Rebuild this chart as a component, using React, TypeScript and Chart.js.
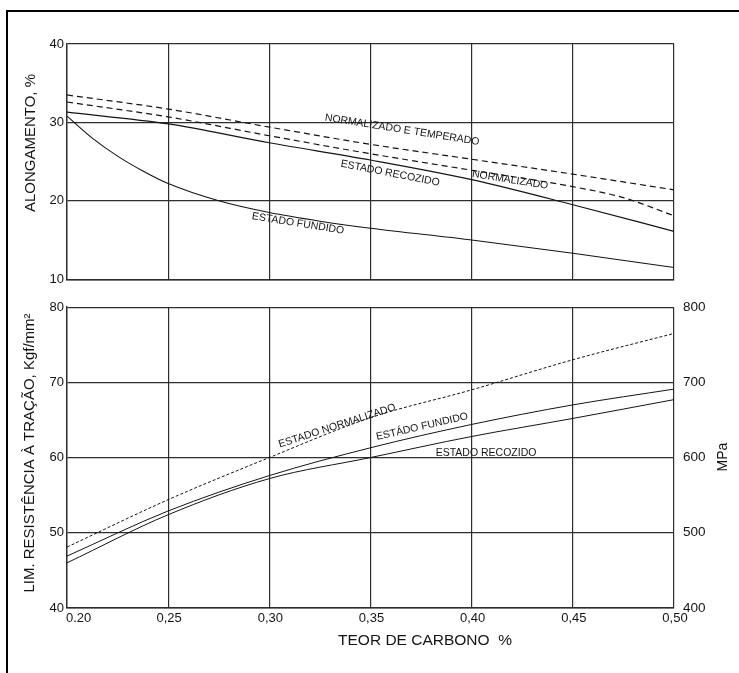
import React, { useEffect, useRef } from "react";
import { Chart, registerables } from "chart.js";

Chart.register(...registerables);

// ---------- data ----------
const xTickValues = [0.2, 0.25, 0.3, 0.35, 0.4, 0.45, 0.5];
const xTickLabels = ["0.20", "0,25", "0,30", "0,35", "0,40", "0,45", "0,50"];

const carbonX = [0.2, 0.25, 0.3, 0.35, 0.4, 0.45, 0.5];

// Top panel: ALONGAMENTO, %
const elongNormTemperado = [33.5, 31.7, 29.4, 27.2, 25.3, 23.4, 21.4];
const elongNormX = [0.2, 0.25, 0.3, 0.35, 0.4, 0.45, 0.475, 0.5];
const elongNormalizado = [32.6, 30.7, 28.3, 26.0, 23.9, 21.8, 20.4, 18.1];
const elongRecozido = [31.3, 29.8, 27.4, 25.2, 22.7, 19.5, 16.1];
const elongFundidoX = [0.2, 0.2125, 0.225, 0.2375, 0.25, 0.275, 0.3, 0.325, 0.35, 0.4, 0.45, 0.5];
const elongFundido = [30.8, 28.0, 25.7, 23.8, 22.2, 20.0, 18.5, 17.4, 16.5, 15.0, 13.3, 11.5];

// Bottom panel: LIM. RESISTÊNCIA À TRAÇÃO, Kgf/mm²
const strengthNormalizado = [48.1, 54.4, 60.0, 65.3, 69.0, 73.0, 76.5];
const strengthFundido = [46.9, 52.9, 57.6, 61.3, 64.4, 67.0, 69.1];
const strengthRecozido = [46.0, 52.4, 57.2, 60.0, 62.8, 65.2, 67.7];

const elongRange = [10, 40];
const strengthRange = [40, 80];
const mpaRange = [400, 800];

// curve labels (anchored in data coordinates)
const topCurveLabels = [
  { text: "NORMALIZADO E TEMPERADO", x: 0.3656, y: 29.05, angle: 9 },
  { text: "ESTADO RECOZIDO", x: 0.3597, y: 23.5, angle: 11 },
  { text: "NORMALIZADO", x: 0.419, y: 22.65, angle: 9 },
  { text: "ESTADO FUNDIDO", x: 0.3142, y: 17.1, angle: 9 },
];
const bottomCurveLabels = [
  { text: "ESTADO NORMALIZADO", x: 0.3335, y: 64.2, angle: -18 },
  { text: "ESTÁDO FUNDIDO", x: 0.3755, y: 64.1, angle: -13 },
  { text: "ESTADO RECOZIDO", x: 0.4071, y: 60.6, angle: 0 },
];

const FONT = "'Liberation Sans', Arial, Helvetica, sans-serif";
const INK = "#141414";
const GRID = "#2e2e2e";

const pts = (xs: number[], ys: number[]) => xs.map((x, i) => ({ x, y: ys[i] }));

type Lbl = { text: string; x: number; y: number; angle: number };
type Title = { text: string; px: number; py: number; rot: number; size: number };

function annotPlugin(id: string, labels: Lbl[], titles: Title[], drawXTicks: boolean) {
  return {
    id,
    afterDraw(chart: any) {
      const ctx = chart.ctx as CanvasRenderingContext2D;
      const xs = chart.scales.x;
      const ys = chart.scales.y;
      ctx.save();
      ctx.fillStyle = INK;
      ctx.font = `10.5px ${FONT}`;
      ctx.textAlign = "center";
      ctx.textBaseline = "middle";
      labels.forEach((l) => {
        const px = xs.getPixelForValue(l.x);
        const py = ys.getPixelForValue(l.y);
        ctx.save();
        ctx.translate(px, py);
        ctx.rotate((l.angle * Math.PI) / 180);
        ctx.fillText(l.text, 0, 0);
        ctx.restore();
      });
      titles.forEach((t) => {
        ctx.save();
        ctx.font = `${t.size}px ${FONT}`;
        ctx.translate(t.px, t.py);
        ctx.rotate((t.rot * Math.PI) / 180);
        ctx.fillText(t.text, 0, 0);
        ctx.restore();
      });
      if (drawXTicks) {
        ctx.font = `13px ${FONT}`;
        const y = chart.chartArea.bottom + 10;
        xTickValues.forEach((v, i) => {
          const px = xs.getPixelForValue(v);
          if (i === 0) {
            ctx.textAlign = "left";
            ctx.fillText(xTickLabels[i], px - 1, y);
          } else {
            ctx.textAlign = "center";
            ctx.fillText(xTickLabels[i], px + 1, y);
          }
        });
      }
      ctx.restore();
    },
  };
}

const xScale = {
  type: "linear" as const,
  min: 0.2,
  max: 0.5,
  ticks: { display: false, stepSize: 0.05 },
  grid: { color: GRID, lineWidth: 1.2, drawTicks: false },
  border: { color: GRID, width: 1.4 },
};

function yScale(range: number[], width: number) {
  return {
    type: "linear" as const,
    position: "left" as const,
    min: range[0],
    max: range[1],
    ticks: {
      stepSize: 10,
      padding: 3,
      color: INK,
      font: { size: 13, family: FONT },
    },
    grid: { color: GRID, lineWidth: 1.2, drawTicks: false },
    border: { color: GRID, width: 1.4 },
    afterFit: (s: any) => {
      s.width = width;
    },
  };
}

const lineDs = (label: string, data: any[], dash: number[], width: number) => ({
  label,
  data,
  borderColor: INK,
  borderWidth: width,
  borderDash: dash,
  pointRadius: 0,
  fill: false,
  cubicInterpolationMode: "monotone" as const,
});

export default function App() {
  const topRef = useRef<HTMLCanvasElement>(null);
  const botRef = useRef<HTMLCanvasElement>(null);

  useEffect(() => {
    const top = new Chart(topRef.current!, {
      type: "line",
      data: {
        datasets: [
          lineDs("Normalizado e temperado", pts(carbonX, elongNormTemperado), [6, 4], 1.2),
          lineDs("Normalizado", pts(elongNormX, elongNormalizado), [6, 4], 1.2),
          lineDs("Estado recozido", pts(carbonX, elongRecozido), [], 1.2),
          lineDs("Estado fundido", pts(elongFundidoX, elongFundido), [], 1.1),
        ],
      },
      options: {
        animation: false,
        responsive: true,
        maintainAspectRatio: false,
        layout: { padding: { top: 44, bottom: 10, left: 0, right: 65 } },
        plugins: { legend: { display: false }, tooltip: { enabled: false } },
        scales: {
          x: xScale,
          y: yScale(elongRange, 67),
        },
      },
      plugins: [
        annotPlugin("topText", topCurveLabels, [
          { text: "ALONGAMENTO, %", px: 31, py: 143, rot: -90, size: 15 },
        ], false),
      ],
    } as any);

    const bot = new Chart(botRef.current!, {
      type: "line",
      data: {
        datasets: [
          lineDs("Estado normalizado", pts(carbonX, strengthNormalizado), [3, 2], 1),
          lineDs("Estado fundido", pts(carbonX, strengthFundido), [], 1),
          lineDs("Estado recozido", pts(carbonX, strengthRecozido), [], 1),
        ],
      },
      options: {
        animation: false,
        responsive: true,
        maintainAspectRatio: false,
        layout: { padding: { top: 11, bottom: 65, left: 0, right: 0 } },
        plugins: { legend: { display: false }, tooltip: { enabled: false } },
        scales: {
          x: xScale,
          y: yScale(strengthRange, 67),
          y2: {
            type: "linear",
            position: "right",
            min: mpaRange[0],
            max: mpaRange[1],
            ticks: {
              stepSize: 100,
              padding: 9,
              color: INK,
              font: { size: 13.5, family: FONT },
            },
            grid: { display: false, drawTicks: false },
            border: { display: false },
            afterFit: (s: any) => {
              s.width = 65;
            },
          },
        },
      },
      plugins: [
        annotPlugin("botText", bottomCurveLabels, [
          { text: "LIM. RESISTÊNCIA À TRAÇÃO, Kgf/mm²", px: 30, py: 163, rot: -90, size: 15 },
          { text: "MPa", px: 723, py: 167, rot: -90, size: 14 },
          { text: "TEOR DE CARBONO  %", px: 425, py: 351, rot: 0, size: 15.5 },
        ], true),
      ],
    } as any);

    return () => {
      top.destroy();
      bot.destroy();
    };
  }, []);

  return (
    <div
      style={{
        position: "fixed",
        left: 0,
        top: 0,
        width: 739,
        height: 673,
        background: "#fff",
        overflow: "hidden",
      }}
    >
      <div style={{ position: "absolute", left: 0, top: 0, width: 739, height: 290 }}>
        <canvas ref={topRef} />
      </div>
      <div style={{ position: "absolute", left: 0, top: 290, width: 739, height: 383 }}>
        <canvas ref={botRef} />
      </div>
      <div style={{ position: "absolute", left: 6, top: 10, width: 733, height: 2, background: "#000" }} />
      <div style={{ position: "absolute", left: 6, top: 10, width: 2, height: 663, background: "#000" }} />
    </div>
  );
}
